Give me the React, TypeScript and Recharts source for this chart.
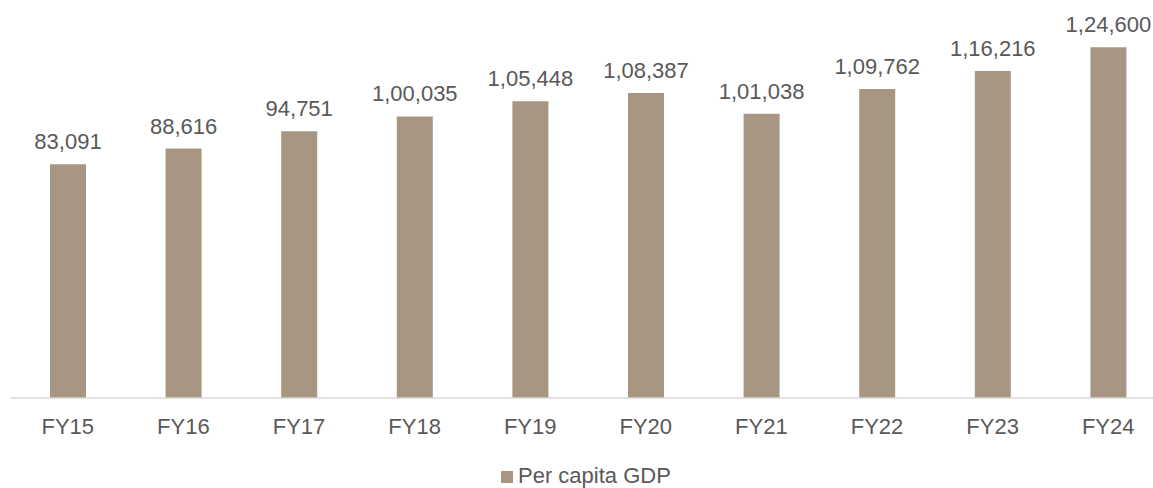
import { Bar, BarChart, XAxis, YAxis, Legend, LabelList } from 'recharts';

// Per capita GDP, FY15 - FY24
const years = ['FY15', 'FY16', 'FY17', 'FY18', 'FY19', 'FY20', 'FY21', 'FY22', 'FY23', 'FY24'];
const perCapitaGdp = [83091, 88616, 94751, 100035, 105448, 108387, 101038, 109762, 116216, 124600];

const data = years.map((year, i) => ({ year, gdp: perCapitaGdp[i] }));

const barColor = '#A69682';
const textColor = '#595959';
const font = '"Liberation Sans", Arial, sans-serif';

// indian grouping: 1,24,600
const formatIndian = (v: number) => {
  const s = String(Math.round(v));
  if (s.length <= 3) return s;
  const last3 = s.slice(-3);
  let rest = s.slice(0, -3);
  const parts: string[] = [];
  while (rest.length > 2) {
    parts.unshift(rest.slice(-2));
    rest = rest.slice(0, -2);
  }
  if (rest) parts.unshift(rest);
  return parts.join(',') + ',' + last3;
};

const LegendContent = () => (
  <div style={{ position: 'relative', height: 40, fontFamily: font, color: textColor }}>
    <span style={{ position: 'absolute', left: 1, top: 23, width: 12, height: 12, background: barColor }} />
    <span style={{ position: 'absolute', left: 18, top: 18, fontSize: 22, lineHeight: '20px', whiteSpace: 'nowrap' }}>
      Per capita GDP
    </span>
  </div>
);

export default function App() {
  return (
    <div style={{ position: 'absolute', left: 0, top: 0, width: 1153, height: 488, overflow: 'hidden', background: '#fff' }}>
      <BarChart
        width={1166}
        height={488}
        data={data}
        margin={{ top: 4, right: 0, left: 10, bottom: 0 }}
        barCategoryGap={0}
      >
        <XAxis
          dataKey="year"
          height={50}
          axisLine={{ stroke: '#D9D9D9', strokeWidth: 1.5 }}
          tickLine={false}
          tickMargin={14}
          interval={0}
          tick={{ fill: textColor, fontSize: 22, fontFamily: font }}
        />
        <YAxis hide domain={[0, 140000]} />
        <Legend
          verticalAlign="bottom"
          height={40}
          content={LegendContent}
          wrapperStyle={{ left: 500, top: 448, bottom: 'auto', width: 200, height: 40, overflow: 'visible' }}
        />
        <Bar dataKey="gdp" fill={barColor} barSize={36} isAnimationActive={false}>
          <LabelList
            dataKey="gdp"
            position="top"
            offset={15}
            formatter={(v: number) => formatIndian(v)}
            style={{ fill: textColor, fontSize: 22, fontFamily: font }}
          />
        </Bar>
      </BarChart>
    </div>
  );
}
